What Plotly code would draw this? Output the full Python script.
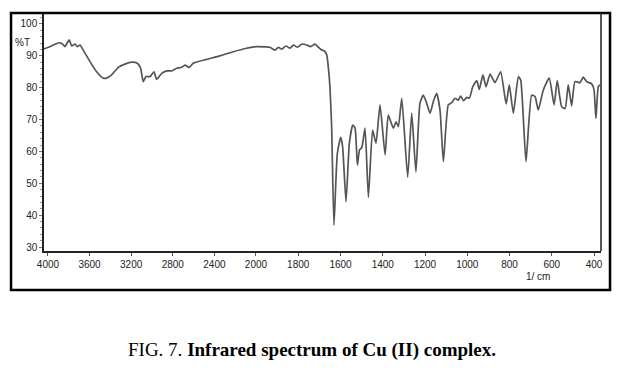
import plotly.graph_objects as go

# IR spectrum: wavenumber (1/cm) and transmittance (%T)
wavenumber = [4038, 3964, 3916, 3885, 3859, 3837, 3795, 3772, 3740, 3718, 3692, 3661, 3596, 3532,
              3468, 3436, 3388, 3324, 3260, 3195, 3141, 3109, 3084, 3058, 3019, 2981, 2955, 2907,
              2859, 2811, 2763, 2714, 2683, 2641, 2603, 2474, 2346, 2218, 2089, 2000,
              1934, 1910, 1894, 1878, 1858, 1839, 1823, 1804, 1783, 1760, 1741, 1721, 1705, 1689,
              1678, 1665, 1658, 1650, 1642, 1631, 1615, 1599, 1590, 1574, 1558, 1542, 1531, 1520,
              1510, 1499, 1484, 1468, 1448, 1432, 1413, 1389, 1374, 1350, 1337, 1326, 1310, 1282,
              1263, 1243, 1224, 1208, 1192, 1176, 1161, 1145, 1129, 1113, 1090, 1074, 1058, 1042,
              1031, 1018, 1002, 990, 974, 955, 943, 926, 911, 892, 869, 842, 816, 801, 782, 758,
              747, 722, 695, 679, 664, 640, 612, 589, 574, 553, 537, 522, 506, 490, 466, 451, 435,
              411, 400, 391, 380, 372]
transmittance = [92.2, 93.1, 93.9, 94.1, 93.7, 92.9, 95.0, 93.1, 93.7, 92.9, 93.4, 91.8, 88.2, 85.0,
                 83.0, 83.0, 84.0, 86.4, 87.4, 88.0, 87.7, 86.1, 81.9, 83.5, 83.5, 85.0, 82.6, 84.5,
                 85.3, 85.3, 86.1, 86.4, 87.1, 86.4, 87.7, 88.9, 90.0, 91.3, 92.4, 92.9,
                 92.7, 91.8, 92.7, 92.1, 93.1, 92.4, 93.4, 92.7, 93.7, 93.4, 92.9, 93.7, 92.7, 91.8,
                 91.6, 90.3, 86.6, 80.3, 67.8, 36.9, 59.4, 64.4, 61.5, 44.2, 62.6, 68.3, 67.3, 55.7,
                 60.5, 61.3, 67.3, 45.6, 66.7, 62.6, 74.6, 58.9, 71.4, 67.3, 69.3, 67.8, 76.7, 51.9,
                 72.0, 53.6, 75.1, 77.7, 75.1, 72.0, 75.6, 78.2, 73.0, 56.8, 74.6, 75.3, 76.7, 76.1,
                 77.4, 75.9, 77.0, 76.7, 80.3, 82.2, 79.5, 84.0, 80.3, 84.3, 81.6, 85.0, 74.9, 80.9,
                 72.0, 83.5, 82.4, 56.8, 77.7, 77.2, 73.0, 79.3, 83.0, 74.6, 82.2, 74.0, 73.5, 80.9,
                 74.3, 81.9, 81.6, 83.3, 81.9, 81.2, 79.3, 70.4, 80.3, 80.9]

high_ticks = [4000, 3600, 3200, 2800, 2400, 2000]
low_ticks = [1800, 1600, 1400, 1200, 1000, 800, 600, 400]
y_ticks = [30, 40, 50, 60, 70, 80, 90, 100]

SPLIT = 2000
hi_x = [w for w in wavenumber if w >= SPLIT]
hi_y = [t for w, t in zip(wavenumber, transmittance) if w >= SPLIT]
lo_x = [w for w in wavenumber if w <= SPLIT]
lo_y = [t for w, t in zip(wavenumber, transmittance) if w <= SPLIT]

line = dict(color="#555555", width=1.7, shape="spline", smoothing=0.5)
fig = go.Figure()
fig.add_trace(go.Scatter(x=hi_x, y=hi_y, mode="lines", line=line, xaxis="x", yaxis="y",
                         showlegend=False, hoverinfo="skip"))
fig.add_trace(go.Scatter(x=lo_x, y=lo_y, mode="lines", line=line, xaxis="x2", yaxis="y",
                         showlegend=False, hoverinfo="skip"))

tickfont = dict(family="Liberation Sans, Arial", size=10, color="#222222")
split_frac = 0.3806
fig.update_layout(
    width=624, height=371,
    margin=dict(l=44, r=23, t=13, b=120),
    paper_bgcolor="white", plot_bgcolor="white",
    xaxis=dict(domain=[0, split_frac], range=[4038, 2000], tickvals=high_ticks,
               showline=True, linecolor="#222222", linewidth=1.5, ticks="outside", ticklen=3,
               tickcolor="#555555", showgrid=False, zeroline=False, tickfont=tickfont,
               anchor="y"),
    xaxis2=dict(domain=[split_frac, 1], range=[2000, 367], tickvals=low_ticks,
                showline=True, linecolor="#222222", linewidth=1.5, ticks="outside", ticklen=3,
                tickcolor="#555555", showgrid=False, zeroline=False, tickfont=tickfont,
                anchor="y"),
    yaxis=dict(range=[28.75, 103.45], tickvals=y_ticks, showline=True, linecolor="#222222",
               linewidth=1.5, ticks="outside", ticklen=3, tickcolor="#777777",
               showgrid=False, zeroline=False, tickfont=tickfont,
               minor=dict(dtick=2, ticks="outside", ticklen=2, tickcolor="#999999")),
    shapes=[
        dict(type="rect", xref="paper", yref="paper", x0=-0.0592, x1=1.0162, y0=-0.1639, y1=1.0,
             line=dict(color="black", width=2.5)),
        dict(type="line", xref="paper", yref="paper", x0=1.0, x1=1.0, y0=0, y1=1.0,
             line=dict(color="#222222", width=1.5)),
    ],
    annotations=[
        dict(text="%T", xref="paper", yref="paper", x=-0.038, y=0.878, showarrow=False,
             font=tickfont, xanchor="center", yanchor="middle"),
        dict(text="1/ cm", xref="paper", yref="paper", x=0.887, y=-0.109, showarrow=False,
             font=tickfont, xanchor="center", yanchor="middle"),
        dict(text="FIG. 7. <b>Infrared spectrum of Cu (II) complex.</b>", xref="paper",
             yref="paper", x=0.481, y=-0.416, showarrow=False,
             font=dict(family="Liberation Serif, Times New Roman, serif", size=19, color="black"),
             xanchor="center", yanchor="middle"),
    ],
)

fig.write_html("out.html", config={"displayModeBar": False},
               post_script="document.body.style.margin='0';document.body.style.overflow='hidden';")
